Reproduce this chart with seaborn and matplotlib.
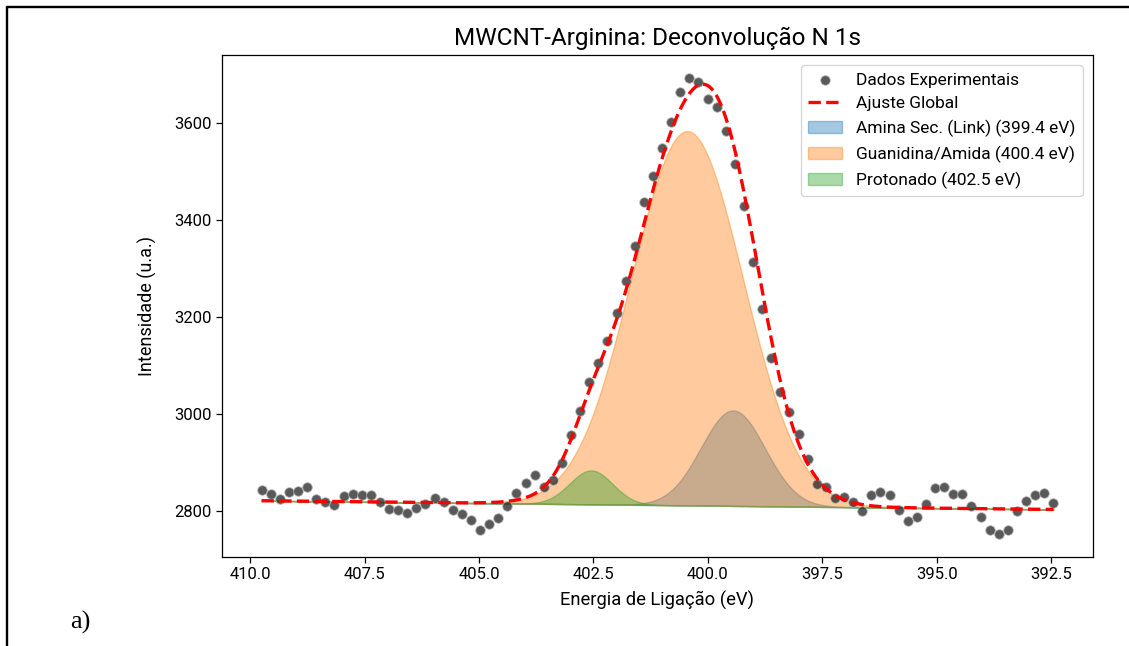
import numpy as np
import matplotlib
matplotlib.use("Agg")
import matplotlib.pyplot as plt
from matplotlib.lines import Line2D
import seaborn as sns
import pandas as pd

# ---------------- data ----------------
energy_start, energy_stop, n_points = 409.75, 392.45, 88
intensity = [
    2843, 2835, 2825, 2839, 2841, 2850, 2825, 2818, 2813, 2830,
    2835, 2832, 2832, 2819, 2804, 2801, 2796, 2806, 2814, 2827,
    2819, 2801, 2793, 2781, 2760, 2774, 2785, 2811, 2837, 2858,
    2873, 2850, 2864, 2898, 2956, 3006, 3066, 3104, 3150, 3208,
    3275, 3347, 3437, 3491, 3548, 3602, 3664, 3693, 3684, 3650,
    3632, 3583, 3516, 3429, 3313, 3216, 3116, 3045, 3004, 2958,
    2906, 2855, 2849, 2827, 2828, 2819, 2800, 2832, 2840, 2832,
    2801, 2780, 2788, 2815, 2847, 2850, 2835, 2835, 2811, 2788,
    2760, 2752, 2760, 2800, 2821, 2832, 2837, 2817,
]

# fitted model parameters
baseline_left, baseline_right = 2821, 2803
comp_labels = ["Amina Sec. (Link) (399.4 eV)",
               "Guanidina/Amida (400.4 eV)",
               "Protonado (402.5 eV)"]
comp_centers = [399.45, 400.45, 402.55]
comp_amps = [197, 772, 70]
comp_sigmas = [0.70, 1.22, 0.47]
comp_colors = ["tab:blue", "tab:orange", "tab:green"]

xtick_values = [410.0, 407.5, 405.0, 402.5, 400.0, 397.5, 395.0, 392.5]
xtick_labels = ["410.0", "407.5", "405.0", "402.5", "400.0", "397.5", "395.0", "392.5"]
ytick_values = [2800, 3000, 3200, 3400, 3600]

title = "MWCNT-Arginina: Deconvolução N 1s"
xlabel = "Energia de Ligação (eV)"
ylabel = "Intensidade (u.a.)"

# ---------------- figure ----------------
sns.set_theme(style="ticks")
plt.rcParams["font.family"] = ["Roboto", "DejaVu Sans"]
plt.rcParams["axes.edgecolor"] = "black"
plt.rcParams["xtick.color"] = "black"
plt.rcParams["ytick.color"] = "black"
plt.rcParams["axes.labelcolor"] = "black"
plt.rcParams["text.color"] = "black"

energy = np.linspace(energy_start, energy_stop, n_points)
df = pd.DataFrame({"energy": energy, "intensity": intensity})

x_fit = np.linspace(energy_start, energy_stop, 600)
base = baseline_left + (baseline_right - baseline_left) * (x_fit - energy_start) / (energy_stop - energy_start)

fig = plt.figure(figsize=(11.29, 6.46), dpi=100)
ax = fig.add_axes([222 / 1129, 1 - 557 / 646, (1093 - 222) / 1129, (557 - 55) / 646])

total = base.copy()
for lab, c, a, s, col in zip(comp_labels, comp_centers, comp_amps, comp_sigmas, comp_colors):
    g = a * np.exp(-(x_fit - c) ** 2 / (2 * s ** 2))
    total = total + g
    ax.fill_between(x_fit, base, base + g, color=col, alpha=0.4, label=lab)

sns.scatterplot(data=df, x="energy", y="intensity", ax=ax, color="#222222",
                alpha=0.75, s=48, edgecolor="#bbbbbb", linewidth=0.7,
                label="Dados Experimentais", zorder=3)
fit_df = pd.DataFrame({"energy": x_fit, "fit": total})
sns.lineplot(data=fit_df, x="energy", y="fit", ax=ax, color="red", linestyle="--",
             lw=2.4, label="Ajuste Global", zorder=4, sort=False)

span = energy_start - energy_stop
ax.set_xlim(energy_start + 0.05 * span, energy_stop - 0.05 * span)
ax.set_xticks(xtick_values)
ax.set_xticklabels(xtick_labels)
ax.set_yticks(ytick_values)
ax.tick_params(labelsize=12, length=4, width=0.9)
for sp in ax.spines.values():
    sp.set_linewidth(0.9)

ax.set_title(title, fontsize=17.5, pad=7)
ax.set_xlabel(xlabel, fontsize=13.2, labelpad=6)
ax.set_ylabel(ylabel, fontsize=13, labelpad=12)

h, l = ax.get_legend_handles_labels()
order = [l.index("Dados Experimentais"), l.index("Ajuste Global")] + [l.index(x) for x in comp_labels]
ax.legend([h[i] for i in order], [l[i] for i in order], loc="upper right",
          fontsize=12.5, frameon=True, fancybox=True, framealpha=0.8,
          edgecolor="#cccccc", borderaxespad=0.6)

# document frame and panel tag
fig.add_artist(Line2D([7 / 1129, 7 / 1129], [0, 1 - 7 / 646], transform=fig.transFigure,
                      color="black", lw=1.7))
fig.add_artist(Line2D([7 / 1129, 1], [1 - 7 / 646, 1 - 7 / 646], transform=fig.transFigure,
                      color="black", lw=1.7))
fig.text(70 / 1129, 1 - 622 / 646, "a)", family=["Liberation Serif", "DejaVu Serif"],
         fontsize=19, va="center", ha="left")

fig.savefig("out.png", dpi=100)
